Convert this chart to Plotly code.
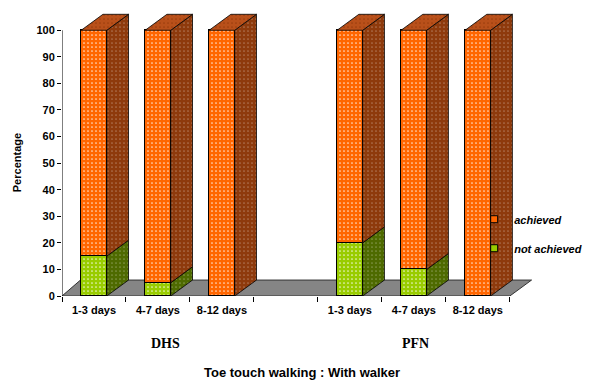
import plotly.graph_objects as go

# Toe touch walking with walker: share of patients per time window
categories = ["1-3 days", "4-7 days", "8-12 days"]
groups = ["DHS", "PFN"]
dhs_not_achieved = [15, 5, 0]
dhs_achieved = [85, 95, 100]
pfn_not_achieved = [20, 10, 0]
pfn_achieved = [80, 90, 100]
y_ticks = [0, 10, 20, 30, 40, 50, 60, 70, 80, 90, 100]

# slot positions: three bars per group with an empty slot between groups
dhs_pos = [0, 1, 2]
pfn_pos = [4, 5, 6]
xs = dhs_pos + pfn_pos
not_ach = dhs_not_achieved + pfn_not_achieved
ach = dhs_achieved + pfn_achieved
labels = categories + categories

BAR_W = 0.4      # front face width (category units)
DX, DY = 0.34, 6  # 3-D depth offset (x units, y units)

ORANGE, ORANGE_SIDE, ORANGE_TOP = "#FF6600", "#8E3A0C", "#B9501A"
GREEN, GREEN_SIDE = "#99CC00", "#4E6A00"
FONT = "Arial, Liberation Sans, sans-serif"
SERIF = "Liberation Serif, Times New Roman, serif"


def bold(s):
    return f"<b>{s}</b>"


def dots(bg, fg="white", op=1.0):
    return dict(shape=".", fgcolor=fg, bgcolor=bg, fgopacity=op, size=4, solidity=0.14)


def poly_trace(pts_list, fill, pattern):
    px, py = [], []
    for pts in pts_list:
        for x, y in pts:
            px.append(x)
            py.append(y)
        px.append(pts[0][0]); py.append(pts[0][1])
        px.append(None); py.append(None)
    return go.Scatter(x=px, y=py, mode="lines", fill="toself", fillcolor=fill,
                      fillpattern=pattern, line=dict(color="black", width=0.8),
                      hoverinfo="skip", showlegend=False)


green_sides, orange_sides, tops = [], [], []
for x, n, a in zip(xs, not_ach, ach):
    r = x + BAR_W / 2
    l = x - BAR_W / 2
    total = n + a
    if n > 0:
        green_sides.append([(r, 0), (r + DX, DY), (r + DX, n + DY), (r, n)])
    orange_sides.append([(r, n), (r + DX, n + DY), (r + DX, total + DY), (r, total)])
    tops.append([(l, total), (r, total), (r + DX, total + DY), (l + DX, total + DY)])

fig = go.Figure()

# front faces
fig.add_trace(go.Bar(x=xs, y=not_ach, width=BAR_W, name="not achieved", showlegend=False,
                     marker=dict(color=GREEN, line=dict(color="black", width=1),
                                 pattern=dots(GREEN, op=0.8))))
fig.add_trace(go.Bar(x=xs, y=ach, width=BAR_W, name="achieved", showlegend=False,
                     marker=dict(color=ORANGE, line=dict(color="black", width=1),
                                 pattern=dots(ORANGE, op=0.8))))

# side and top faces
fig.add_trace(poly_trace(green_sides, GREEN_SIDE, dots(GREEN_SIDE, op=0.3)))
fig.add_trace(poly_trace(orange_sides, ORANGE_SIDE, dots(ORANGE_SIDE, op=0.3)))
fig.add_trace(poly_trace(tops, ORANGE_TOP, dots(ORANGE_TOP, "#7a2a00", op=0.5)))

# legend entries
for name, col in [("achieved", ORANGE), ("not achieved", GREEN)]:
    fig.add_trace(go.Scatter(x=[None], y=[None], mode="markers", name=f"<b><i>{name}</i></b>",
                             legendgroup=name,
                             marker=dict(symbol="square", size=7, color=col,
                                         line=dict(color="black", width=1))))

x_lo, x_hi = -0.5, max(xs) + 0.5
floor = (f"M{x_lo},0 L{x_hi},0 L{x_hi + DX},{DY} L{x_lo + DX * 0.85},{DY} Z")
fig.add_shape(type="path", path=floor, xref="x", yref="y", layer="below",
              fillcolor="#858585", line=dict(color="#333333", width=1))
fig.add_shape(type="line", xref="x", yref="y", x0=x_lo, x1=x_lo, y0=0, y1=max(y_ticks),
              line=dict(color="black", width=1))

fig.update_layout(
    width=589, height=383, barmode="stack", bargap=0,
    margin=dict(l=62, r=28, t=9, b=87, autoexpand=False),
    paper_bgcolor="white", plot_bgcolor="white",
    font=dict(family=FONT, color="black"),
    showlegend=True,
    legend=dict(x=0.826, y=0.318, xanchor="left", yanchor="top",
                bgcolor="rgba(0,0,0,0)", tracegroupgap=10,
                font=dict(family=FONT, size=11)),
    xaxis=dict(range=[x_lo, 7.3], tickmode="array", tickvals=xs,
               ticktext=[bold(t) for t in labels],
               ticks="", showline=False, showgrid=False, zeroline=False,
               tickfont=dict(family=FONT, size=11), ticklabelstandoff=6,
               minor=dict(tickmode="array", tickvals=[x_lo + i for i in range(8)],
                          ticks="outside", ticklen=5, tickwidth=1, tickcolor="black",
                          showgrid=False)),
    yaxis=dict(range=[0, 108], tickmode="array", tickvals=y_ticks,
               ticktext=[bold(t) for t in y_ticks], ticks="outside",
               ticklen=4, tickcolor="black", showline=False, showgrid=False,
               zeroline=False, tickfont=dict(family=FONT, size=11)),
    annotations=[
        dict(text=bold("Percentage"), x=-0.09, y=50, xref="paper", yref="y", textangle=-90,
             xanchor="center", yanchor="middle", showarrow=False,
             font=dict(family=FONT, size=11)),
        dict(text=bold(groups[0]), x=1.12, y=-0.164, xref="x", yref="paper",
             xanchor="center", yanchor="middle", showarrow=False,
             font=dict(family=SERIF, size=14)),
        dict(text=bold(groups[1]), x=5.03, y=-0.164, xref="x", yref="paper",
             xanchor="center", yanchor="middle", showarrow=False,
             font=dict(family=SERIF, size=14)),
        dict(text=bold("Toe touch walking : With walker"), x=0.481, y=-0.268, xref="paper",
             yref="paper", xanchor="center", yanchor="middle", showarrow=False,
             font=dict(family=FONT, size=13)),
    ],
)

fig.write_html("out.html")
